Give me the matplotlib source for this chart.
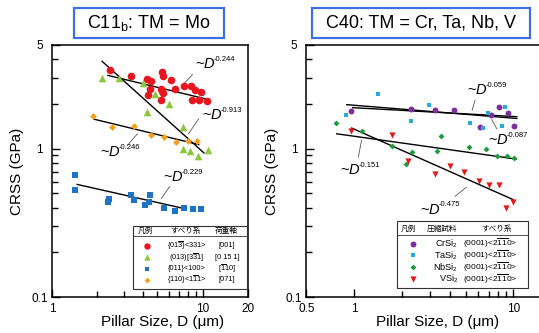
import numpy as np
import matplotlib
matplotlib.use('Agg')
import matplotlib.pyplot as plt
from matplotlib.patches import Rectangle
from matplotlib.ticker import NullFormatter
###############################################################################
""" Datos (leidos de la figura) """
###############################################################################
# C11b MoSi2 -- diametro del pilar D (um) y CRSS (GPa)
d_013_331 = [2.41, 3.33, 4.25, 4.55, 4.5, 4.34, 5.34, 5.45, 6.21, 5.31, 5.4, 5.45,
             5.31, 6.54, 7.57, 8.36, 8.93, 9.82, 8.5, 9.4, 10.7]
c_013_331 = [3.41, 3.07, 2.95, 2.84, 2.54, 2.31, 3.27, 3.09, 2.92, 2.54, 2.44, 2.36,
             2.12, 2.54, 2.64, 2.64, 2.47, 2.41, 2.12, 2.12, 2.09]
d_013_3b31 = [2.16, 2.77, 3.99, 4.84, 5.99, 4.25, 7.38, 7.44, 8.19, 9.32, 10.8]
c_013_3b31 = [3.01, 2.99, 2.79, 2.33, 2.01, 1.78, 1.39, 1.0, 0.96, 0.89, 0.985]
d_011_100 = [1.43, 1.43, 2.39, 2.34, 3.34, 3.5, 4.14, 4.38, 4.5, 5.57, 6.58, 7.57, 8.62, 9.72]
c_011_100 = [0.66, 0.53, 0.46, 0.44, 0.49, 0.45, 0.42, 0.44, 0.49, 0.40, 0.38, 0.40, 0.39, 0.39]
d_110_1b11 = [1.88, 2.5, 3.52, 4.55, 5.54, 6.64, 7.94, 9.18]
c_110_1b11 = [1.65, 1.40, 1.42, 1.23, 1.20, 1.11, 1.12, 1.12]

# C40 -- CrSi2, TaSi2, NbSi2, VSi2
d_cr = [0.95, 2.26, 3.2, 4.26, 6.17, 7.24, 8.13, 9.26, 10.1]
c_cr = [1.79, 1.86, 1.81, 1.81, 1.40, 1.68, 1.91, 1.74, 1.42]
d_ta = [0.89, 1.40, 2.28, 2.95, 5.34, 6.47, 6.96, 8.87, 8.45]
c_ta = [1.68, 2.32, 1.53, 1.96, 1.50, 1.38, 1.74, 1.91, 1.42]
d_nb = [0.77, 1.12, 1.72, 2.30, 2.11, 3.33, 3.49, 5.26, 6.73, 7.94, 9.08, 10.1]
c_nb = [1.50, 1.31, 1.04, 0.944, 0.79, 0.96, 1.21, 1.02, 1.0, 0.89, 0.89, 0.86]
d_v = [0.96, 1.72, 2.17, 4.0, 3.2, 4.88, 6.06, 7.03, 8.09, 9.96, 9.0]
c_v = [1.31, 1.23, 0.82, 0.76, 0.67, 0.70, 0.61, 0.566, 0.566, 0.434, 0.398]

# rectas de ajuste CRSS = A * D^-n  (D inicial, D final, A, n)
fit_c11 = [(2.35, 10.85, 3.84, 0.244), (2.15, 10.2, 7.8, 0.913),
           (1.90, 9.42, 1.85, 0.246), (1.47, 7.26, 0.627, 0.229)]
fit_c40 = [(0.977, 10.5, 1.887, 0.059), (0.896, 10.5, 1.961, 0.087),
           (0.775, 10.4, 1.212, 0.151), (0.963, 9.92, 1.352, 0.475)]

# etiquetas ~D^-n : (x, y) del texto y linea guia
lab_c11 = [('0.244', 8.93, 3.70, (8.57, 3.16), (7.57, 2.76)),
           ('0.913', 9.93, 1.68, (9.42, 1.59), (8.06, 1.26)),
           ('0.246', 2.08, 0.95, (3.69, 1.26), (3.16, 1.05)),
           ('0.229', 5.46, 0.644, (6.05, 0.557), (5.31, 0.46))]
lab_c40 = [('0.059', 5.09, 2.47, (5.74, 2.12), (5.5, 1.81)),
           ('0.087', 6.96, 1.14, (7.31, 1.57), (7.87, 1.36)),
           ('0.151', 0.813, 0.714, (1.11, 1.14), (1.06, 0.877)),
           ('0.475', 2.59, 0.388, (4.3, 0.477), (5.04, 0.548))]

# leyendas
slip_c11 = [r'{01$\overline{3}$}<331>', r'(013)[3$\overline{3}$1]',
            r'{011}<100>', r'{110}<1$\overline{1}$1>']
axis_c11 = ['[001]', '[0 15 1]', r'[$\overline{1}$10]', '[071]']
comp_c40 = [r'CrSi$_2$', r'TaSi$_2$', r'NbSi$_2$', r'VSi$_2$']
slip_c40 = [r'(0001)<2$\overline{11}$0>'] * 4

yticks = [0.1, 1, 5]
yminor = [0.2, 0.3, 0.4, 0.5, 0.6, 0.7, 0.8, 0.9, 2, 3, 4]
###############################################################################
""" Estilo """
###############################################################################
plt.rcParams['font.family'] = ['Liberation Sans', 'Noto Sans CJK JP', 'DejaVu Sans']
plt.rcParams['mathtext.fontset'] = 'custom'
plt.rcParams['mathtext.rm'] = 'Liberation Sans'
plt.rcParams['mathtext.it'] = 'Liberation Sans:italic'
plt.rcParams['mathtext.bf'] = 'Liberation Sans:bold'

st_c11 = [dict(marker='o', color='#e8141e', s=30),
          dict(marker='^', color='#8cc63e', s=30),
          dict(marker='s', color='#2272c3', s=18),
          dict(marker='D', color='#f5a01a', s=12)]
st_c40 = [dict(marker='o', color='#7d2f9a', s=18),
          dict(marker='s', color='#2aa8e0', s=11),
          dict(marker='D', color='#1e9a3c', s=9),
          dict(marker='v', color='#e31a1c', s=20)]


def ejes(ax, xlim, xt, xtl):
    ax.set_xscale('log')
    ax.set_yscale('log')
    ax.set_xlim(*xlim)
    ax.set_ylim(0.1, 5)
    ax.set_xticks(xt)
    ax.set_xticklabels(xtl)
    ax.set_xticks([2, 3, 4, 5, 6, 7, 8, 9], minor=True)
    ax.set_yticks(yticks)
    ax.set_yticklabels(['0.1', '1', '5'])
    ax.set_yticks(yminor, minor=True)
    ax.xaxis.set_minor_formatter(NullFormatter())
    ax.yaxis.set_minor_formatter(NullFormatter())
    ax.tick_params(which='both', direction='in', top=False, right=False,
                   width=1, labelsize=8.5, color='k')
    ax.tick_params(which='major', length=6)
    ax.tick_params(which='minor', length=4)
    ax.tick_params(axis='x', pad=4)
    ax.tick_params(axis='y', pad=9)
    for lb in ax.get_yticklabels():
        lb.set_horizontalalignment('center')
    for sp in ax.spines.values():
        sp.set_linewidth(1.1)
    ax.set_xlabel('Pillar Size, D (μm)', fontsize=11)
    ax.set_ylabel('CRSS (GPa)', fontsize=11)


def rectas(ax, fits, labs):
    for d0, d1, A, n in fits:
        d = np.array([d0, d1])
        ax.plot(d, A * d ** (-n), color='k', lw=1.0)
    for n, x, y, p0, p1 in labs:
        # "~D" y el exponente pequeño con guion normal
        ax.text(x, y, r'~$D$', fontsize=10.5, ha='left', va='center')
        ax.annotate('-' + n, xy=(x, y), xytext=(13.5, 3.5), textcoords='offset points',
                    fontsize=5.5, ha='left', va='center')
        ax.plot([p0[0], p1[0]], [p0[1], p1[1]], color='#555555', lw=0.6)
###############################################################################
""" Figura """
###############################################################################
fig = plt.figure(figsize=(5.39, 3.33), dpi=100)
ax1 = fig.add_axes([0.0965, 0.108, 0.3636, 0.757])
ax2 = fig.add_axes([0.5685, 0.108, 0.436, 0.757])

# ---- C11b
ejes(ax1, (1, 20), [1, 10, 20], ['1', '10', '20'])
datos1 = [(d_013_331, c_013_331), (d_013_3b31, c_013_3b31),
          (d_011_100, c_011_100), (d_110_1b11, c_110_1b11)]
for (d, c), st in zip(datos1, st_c11):
    ax1.scatter(d, c, linewidths=0, zorder=3, **st)
rectas(ax1, fit_c11, lab_c11)
ax1.xaxis.set_label_coords(0.566, -0.070)
ax1.yaxis.set_label_coords(-0.143, 0.5)

# leyenda C11b
ax1.add_patch(Rectangle((0.415, 0.030), 0.578, 0.252, transform=ax1.transAxes,
                        fc='white', ec='#333333', lw=0.8, zorder=4))
ax1.plot([0.415, 0.993], [0.241, 0.241], transform=ax1.transAxes, color='#333333',
         lw=0.6, zorder=5)
for x, t in zip([0.474, 0.679, 0.891], ['凡例', 'すべり系', '荷重軸']):
    ax1.text(x, 0.262, t, transform=ax1.transAxes, fontsize=5.5, ha='center',
             va='center', zorder=6)
for i, yy in enumerate([0.203, 0.158, 0.113, 0.068]):
    st = dict(st_c11[i])
    st['s'] = st['s'] * 0.7
    ax1.scatter([0.483], [yy], transform=ax1.transAxes, linewidths=0, zorder=6, **st)
    ax1.text(0.687, yy, slip_c11[i], transform=ax1.transAxes, fontsize=5.3,
             ha='center', va='center', zorder=6)
    ax1.text(0.894, yy, axis_c11[i], transform=ax1.transAxes, fontsize=5.3,
             ha='center', va='center', zorder=6)

# ---- C40
ejes(ax2, (0.5, 15), [0.5, 1, 10], ['0.5', '1', '10'])
datos2 = [(d_cr, c_cr), (d_ta, c_ta), (d_nb, c_nb), (d_v, c_v)]
for (d, c), st in zip(datos2, st_c40):
    ax2.scatter(d, c, linewidths=0, zorder=3, **st)
rectas(ax2, fit_c40, lab_c40)
ax2.xaxis.set_label_coords(0.56, -0.070)
ax2.yaxis.set_label_coords(-0.117, 0.5)

# leyenda C40
ax2.add_patch(Rectangle((0.386, 0.036), 0.557, 0.266, transform=ax2.transAxes,
                        fc='white', ec='#333333', lw=0.8, zorder=4))
ax2.plot([0.386, 0.943], [0.246, 0.246], transform=ax2.transAxes, color='#333333',
         lw=0.6, zorder=5)
for x, t in zip([0.432, 0.576, 0.81], ['凡例', '圧縮試料', 'すべり系']):
    ax2.text(x, 0.270, t, transform=ax2.transAxes, fontsize=5.5, ha='center',
             va='center', zorder=6)
for i, yy in enumerate([0.212, 0.165, 0.118, 0.071]):
    ax2.scatter([0.455], [yy], transform=ax2.transAxes, linewidths=0, zorder=6,
                **st_c40[i])
    ax2.text(0.647, yy, comp_c40[i], transform=ax2.transAxes, fontsize=6.6,
             ha='right', va='center', zorder=6)
    ax2.text(0.668, yy, slip_c40[i], transform=ax2.transAxes, fontsize=6.0,
             ha='left', va='center', zorder=6)

# ---- titulos en recuadro azul
for x0, w, xc, t in [(0.1373, 0.2783, 0.2764, r'C11$_\mathrm{b}$: TM = Mo'),
                     (0.5783, 0.405, 0.781, 'C40: TM = Cr, Ta, Nb, V')]:
    fig.add_artist(Rectangle((x0, 0.885), w, 0.090, transform=fig.transFigure,
                             fc='white', ec='#3d6fe0', lw=1.6))
    fig.text(xc, 0.930, t, fontsize=13, ha='center', va='center')

fig.savefig('out.png', dpi=100)
